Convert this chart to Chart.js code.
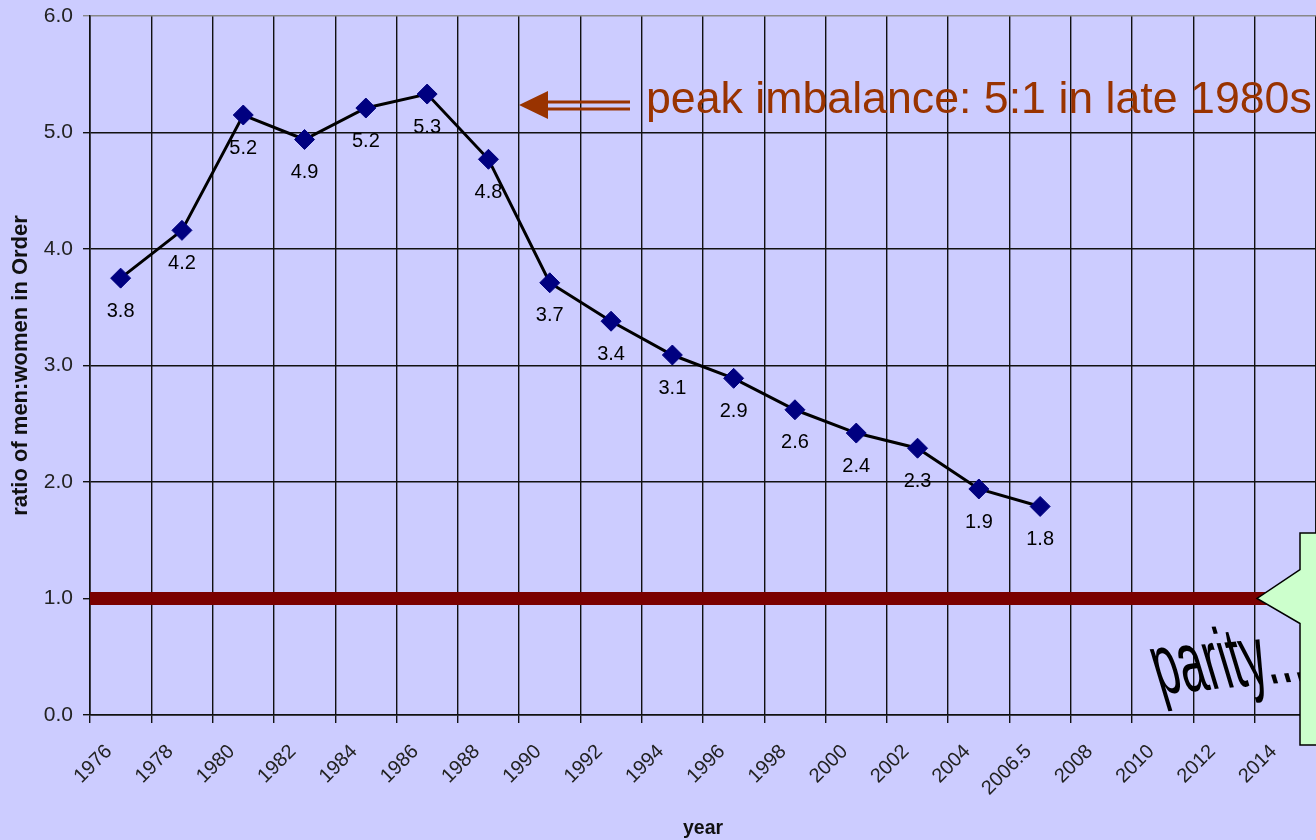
<!DOCTYPE html>
<html>
<head>
<meta charset="utf-8">
<script src="https://cdn.jsdelivr.net/npm/chart.js@4/dist/chart.umd.min.js"></script>
<style>
  html, body { margin: 0; padding: 0; background: #CCCCFF; }
  #wrap { position: relative; width: 1316px; height: 840px; }
</style>
</head>
<body>
<div id="wrap"><canvas id="c"></canvas></div>
<script>
// ---- data ----
const tickLabels = ['1976','1978','1980','1982','1984','1986','1988','1990','1992','1994',
                    '1996','1998','2000','2002','2004','2006.5','2008','2010','2012','2014'];
const ratio = [3.75, 4.16, 5.15, 4.94, 5.21, 5.33, 4.77, 3.71, 3.38, 3.09, 2.89, 2.62, 2.42, 2.29, 1.94, 1.79];
const valueLabels = ['3.8','4.2','5.2','4.9','5.2','5.3','4.8','3.7','3.4','3.1','2.9','2.6','2.4','2.3','1.9','1.8'];
const yTicks = [0, 1, 2, 3, 4, 5, 6];
const parityLevel = 1.0;
const annotationText = 'peak imbalance: 5:1 in late 1980s';
const calloutText = 'parity...';

const FONT = "'Liberation Sans', Arial, sans-serif";

// points sit in the middle of each category slot
const seriesPoints = ratio.map((v, i) => ({ x: i + 0.5, y: v }));
const parityPoints = [{ x: 0, y: parityLevel }, { x: tickLabels.length, y: parityLevel }];

const labelPlugin = {
  id: 'valueLabels',
  afterDatasetsDraw(chart) {
    const ctx = chart.ctx;
    const meta = chart.getDatasetMeta(0);
    ctx.save();
    ctx.font = '20px ' + FONT;
    ctx.fillStyle = '#000';
    ctx.textAlign = 'center';
    ctx.textBaseline = 'middle';
    meta.data.forEach((pt, i) => {
      ctx.fillText(valueLabels[i], pt.x, pt.y + 33);
    });
    ctx.restore();
  }
};

const decoPlugin = {
  id: 'decorations',
  afterDraw(chart) {
    const ctx = chart.ctx;
    const ys = chart.scales.y;
    const col = '#993300';
    ctx.save();
    // arrow
    const ay = 105;
    ctx.fillStyle = col;
    ctx.beginPath();
    ctx.moveTo(519, ay);
    ctx.lineTo(548, ay - 14);
    ctx.lineTo(548, ay + 14);
    ctx.closePath();
    ctx.fill();
    ctx.fillRect(540, ay - 4.5, 90, 3);
    ctx.fillRect(540, ay + 2.5, 90, 3);
    // text
    ctx.font = '44.7px ' + FONT;
    ctx.textBaseline = 'alphabetic';
    ctx.textAlign = 'left';
    ctx.fillText(annotationText, 646, 113);

    // parity text (warped look)
    ctx.save();
    ctx.fillStyle = '#000';
    ctx.font = '84px ' + FONT;
    ctx.transform(0.55, -0.05, 0.30, 1.0, 1160, 694);
    ctx.fillText(calloutText, 0, 0);
    ctx.restore();

    // callout box
    const tipY = ys.getPixelForValue(parityLevel);
    ctx.beginPath();
    ctx.moveTo(1300, 533);
    ctx.lineTo(1320, 533);
    ctx.lineTo(1320, 745);
    ctx.lineTo(1300, 745);
    ctx.lineTo(1300, tipY + 25);
    ctx.lineTo(1257, tipY);
    ctx.lineTo(1300, tipY - 29);
    ctx.closePath();
    ctx.fillStyle = '#CCFFCC';
    ctx.fill();
    ctx.lineWidth = 1.5;
    ctx.strokeStyle = '#000';
    ctx.stroke();
    ctx.restore();
  }
};

Chart.defaults.animation = false;

new Chart(document.getElementById('c'), {
  type: 'line',
  data: {
    datasets: [
      {
        label: 'ratio',
        data: seriesPoints,
        borderColor: '#000',
        borderWidth: 3,
        pointStyle: 'rectRot',
        pointRadius: 10,
        pointBackgroundColor: '#000080',
        pointBorderColor: '#000080',
        pointBorderWidth: 1,
        tension: 0,
        order: 0
      },
      {
        label: 'parity',
        data: parityPoints,
        borderColor: '#7A0000',
        borderWidth: 13,
        pointRadius: 0,
        tension: 0,
        order: 1
      }
    ]
  },
  options: {
    responsive: true,
    maintainAspectRatio: false,
    layout: { autoPadding: false, padding: { top: 16, right: 0, left: 0, bottom: 0 } },
    plugins: { legend: { display: false }, tooltip: { enabled: false } },
    scales: {
      x: {
        type: 'linear',
        min: 0,
        max: tickLabels.length,
        afterFit(s) { s.height = 125; s.paddingLeft = 0; s.paddingRight = 0; },
        afterBuildTicks(s) {
          s.ticks = tickLabels.map((_, i) => ({ value: i })).concat([{ value: tickLabels.length }]);
        },
        ticks: {
          autoSkip: false,
          maxRotation: 45,
          minRotation: 45,
          labelOffset: 19,
          padding: 17,
          color: '#222',
          font: { family: FONT, size: 20 },
          callback: (v) => (tickLabels[v] !== undefined ? tickLabels[v] : '')
        },
        grid: { color: '#111', lineWidth: 1.4, tickLength: 8, drawTicks: true },
        border: { color: '#111', width: 1.6 },
        title: {
          display: true, text: 'year', color: '#111',
          font: { family: FONT, size: 19.5, weight: 'bold' },
          padding: { top: 0, bottom: 0 }
        }
      },
      y: {
        min: 0,
        max: 6,
        afterFit(s) { s.width = 90; s.paddingTop = 0; s.paddingBottom = 0; },
        afterBuildTicks(s) { s.ticks = yTicks.map(v => ({ value: v })); },
        ticks: {
          padding: 10,
          color: '#222',
          font: { family: FONT, size: 21 },
          callback: (v) => Number(v).toFixed(1)
        },
        grid: {
          color: (c) => (c.tick && c.tick.value === 6 ? '#888' : '#111'),
          lineWidth: 1.4, tickLength: 7
        },
        border: { color: '#111', width: 1.6 },
        title: {
          display: true, text: 'ratio of men:women in Order', color: '#111',
          font: { family: FONT, size: 22, weight: 'bold' },
          padding: { top: 8, bottom: 0 }
        }
      }
    }
  },
  plugins: [labelPlugin, decoPlugin]
});
</script>
</body>
</html>
